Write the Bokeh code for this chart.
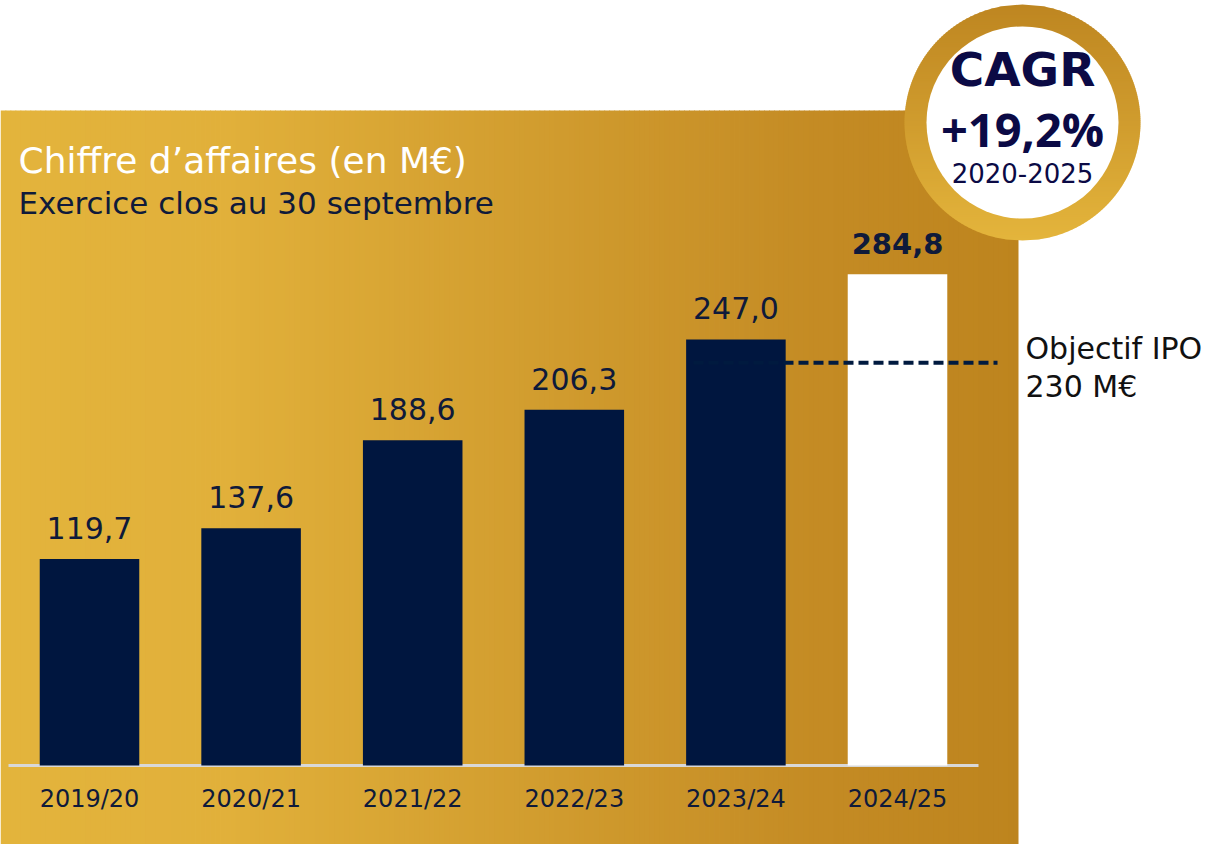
import numpy as np
from bokeh.plotting import figure
from bokeh.models import Range1d
from bokeh.core.properties import value
from bokeh.embed import file_html
from bokeh.resources import INLINE

# ---------------- data ----------------
categories = ["2019/20", "2020/21", "2021/22", "2022/23", "2023/24", "2024/25"]
revenue = [119.7, 137.6, 188.6, 206.3, 247.0, 284.8]
revenue_labels = ["119,7", "137,6", "188,6", "206,3", "247,0", "284,8"]
ipo_level = 233.5            # level of the dashed "Objectif IPO" line as read
ipo_texts = ["Objectif IPO", "230 M€"]
title_text = "Chiffre d’affaires (en M€)"
subtitle_text = "Exercice clos au 30 septembre"
cagr_texts = ["CAGR", "+19,2%", "2020-2025"]

# ---------------- style ----------------
FONT = value("DejaVu Sans")
FONT2 = value("Open Sans")
NAVY = "#00163F"
TEXT_NAVY = "#0F1A3A"
CAGR_NAVY = "#0B0A45"
bar_colors = [NAVY] * 5 + ["#FFFFFF"]
SH = 0.4   # baseline correction (fraction of font size)


def hex2rgb(h):
    h = h.lstrip("#")
    return np.array([int(h[i:i + 2], 16) for i in (0, 2, 4)], dtype=float)


def grad(stops, t):
    pos = [s[0] for s in stops]
    cols = [hex2rgb(s[1]) for s in stops]
    out = []
    for tt in t:
        c = np.array([np.interp(tt, pos, [cc[k] for cc in cols]) for k in range(3)])
        out.append("#%02x%02x%02x" % tuple(int(round(v)) for v in c))
    return out


W, H = 1209, 844
idx = list(range(len(categories)))

# category index -> px: 89 + 161.6*i ; value -> px: 765 - 1.7247*v
step, c0 = 161.6, 89.0
k, base = 1.7247, 765.0
xr = Range1d(-c0 / step, (W - c0) / step)
yr = Range1d((base - H) / k, base / k)

p = figure(width=W, height=H, x_range=xr, y_range=yr, title=None,
           output_backend="svg", toolbar_location=None, min_border=0,
           x_axis_location=None, y_axis_location=None,
           background_fill_color="white", border_fill_color="white",
           outline_line_color=None)
p.grid.visible = False
p.extra_x_ranges = {"px": Range1d(0, W)}
p.extra_y_ranges = {"px": Range1d(H, 0)}

# gold gradient panel
gx0, gx1, gy0, gy1 = 0, 1018, 110, H
n = 204
edges = np.linspace(gx0, gx1, n + 1)
t = edges[:-1] / gx1
bg_cols = grad([(0, "#E3B43C"), (0.22, "#E1B03A"), (0.55, "#D09B2E"),
                (0.8, "#C48B24"), (1.0, "#BD841E")], t)
right = edges[1:].copy()
right[:-1] += 0.8
p.quad(left=edges[:-1], right=right, bottom=gy1, top=gy0,
       fill_color=bg_cols, line_color=None,
       x_range_name="px", y_range_name="px")

# baseline
p.segment(x0=[8], x1=[978], y0=[0], y1=[0], line_color="#D8D8D8",
          line_width=3, x_range_name="px")

# bars
p.vbar(x=idx, top=revenue, width=0.616, bottom=0,
       fill_color=bar_colors, line_color=None)

# IPO objective dashed line
p.segment(x0=[693], x1=[997], y0=[ipo_level], y1=[ipo_level],
          line_color="#001A3F", line_width=4, line_dash="10 5",
          x_range_name="px")

# value labels
p.text(x=idx[:-1], y=revenue[:-1], text=revenue_labels[:-1],
       text_font=FONT, text_font_size="30px", text_color=TEXT_NAVY,
       text_align="center", text_baseline="alphabetic",
       y_offset=-19 - SH * 30)
p.text(x=idx[-1:], y=revenue[-1:], text=revenue_labels[-1:],
       text_font=FONT, text_font_size="29px", text_font_style="bold",
       text_color=TEXT_NAVY, text_align="center",
       text_baseline="alphabetic", y_offset=-19 - SH * 29)

# category labels
p.text(x=idx, y=[0] * len(idx), text=categories, text_font=FONT,
       text_font_size="24px", text_color=TEXT_NAVY, text_align="center",
       text_baseline="alphabetic", y_offset=43 - SH * 24)

# titles
p.text(x=[18], y=[174 - SH * 36], text=[title_text], text_font=FONT,
       text_font_size="36px", text_color="#FFFFFF",
       text_baseline="alphabetic", x_range_name="px", y_range_name="px")
p.text(x=[18], y=[215 - SH * 31], text=[subtitle_text], text_font=FONT,
       text_font_size="31px", text_color=TEXT_NAVY,
       text_baseline="alphabetic", x_range_name="px", y_range_name="px")

# objective labels
p.text(x=[1025, 1025], y=[ipo_level, ipo_level], text=ipo_texts,
       y_offset=[-2 - SH * 30, 36 - SH * 30], text_font=FONT,
       text_font_size="30px", text_color="#111111",
       text_baseline="alphabetic", x_range_name="px")

# CAGR badge: gradient ring
cx, cy, R, r_in = 1022, 122, 118, 96
ys = np.arange(cy - R, cy + R, 2.0)
xs_p, ys_p = [], []
for ya in ys:
    yb = min(ya + 2.8, cy + R)
    wa = np.sqrt(max(R ** 2 - (ya - cy) ** 2, 0))
    wb = np.sqrt(max(R ** 2 - (yb - cy) ** 2, 0))
    ym = (ya + yb) / 2
    wm = np.sqrt(max(R ** 2 - (ym - cy) ** 2, 0))
    xs_p.append([cx - wa, cx + wa, cx + wm, cx + wb, cx - wb, cx - wm])
    ys_p.append([ya, ya, ym, yb, yb, ym])
ring_cols = grad([(0, "#BE8621"), (0.5, "#D09C2E"), (1.0, "#E4B53C")],
                 (ys - (cy - R)) / (2 * R))
p.patches(xs=xs_p, ys=ys_p, fill_color=ring_cols, line_color=None,
          x_range_name="px", y_range_name="px")
p.circle(x=[cx], y=[cy], radius=r_in, fill_color="white", line_color=None,
         x_range_name="px", y_range_name="px")

p.text(x=[cx], y=[88 - SH * 47], text=cagr_texts[:1], text_font=FONT,
       text_font_size="47px", text_font_style="bold", text_color=CAGR_NAVY,
       text_align="center", text_baseline="alphabetic",
       x_range_name="px", y_range_name="px")
p.text(x=[cx], y=[147 - SH * 47], text=cagr_texts[1:2], text_font=FONT2,
       text_font_size="47px", text_font_style="bold", text_color=CAGR_NAVY,
       text_align="center", text_baseline="alphabetic",
       x_range_name="px", y_range_name="px")
p.text(x=[cx], y=[183 - SH * 26], text=cagr_texts[2:], text_font=FONT,
       text_font_size="26px", text_color=CAGR_NAVY,
       text_align="center", text_baseline="alphabetic",
       x_range_name="px", y_range_name="px")

open("out.html", "w").write(file_html(p, INLINE))
